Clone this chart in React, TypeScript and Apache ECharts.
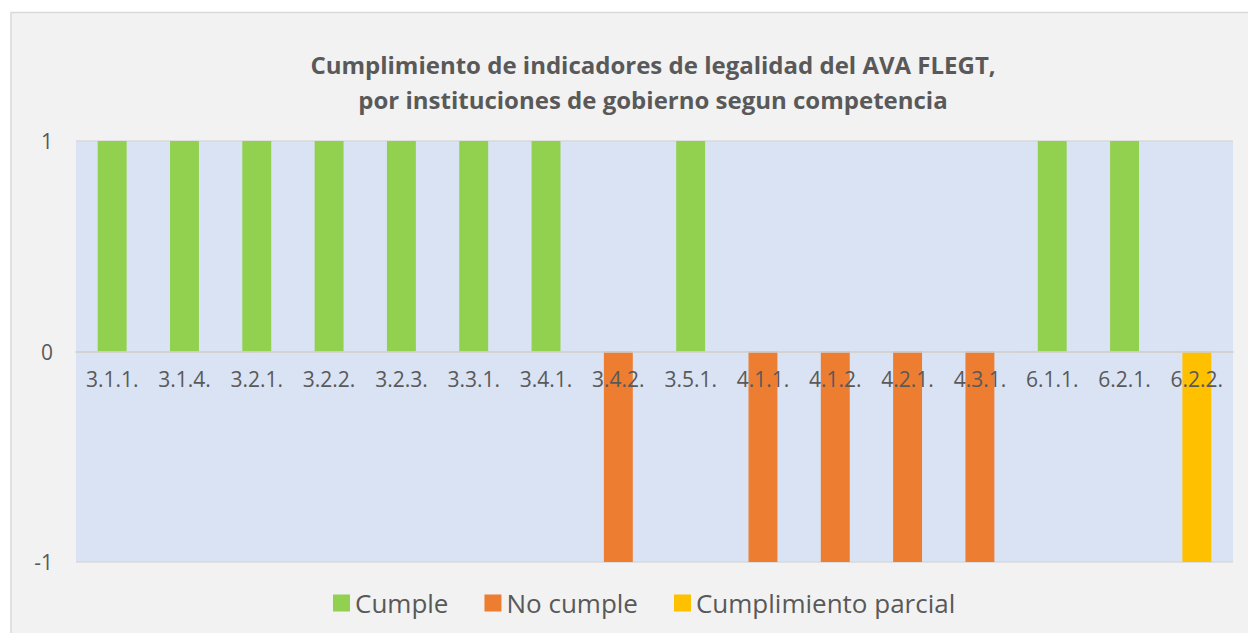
import React, { useEffect, useRef } from "react";
import * as echarts from "echarts";

const categories = ["3.1.1.", "3.1.4.", "3.2.1.", "3.2.2.", "3.2.3.", "3.3.1.", "3.4.1.", "3.4.2.", "3.5.1.", "4.1.1.", "4.1.2.", "4.2.1.", "4.3.1.", "6.1.1.", "6.2.1.", "6.2.2."];
const cumple = [1, 1, 1, 1, 1, 1, 1, "-", 1, "-", "-", "-", "-", 1, 1, "-"];
const noCumple = ["-", "-", "-", "-", "-", "-", "-", -1, "-", -1, -1, -1, -1, "-", "-", "-"];
const parcial = ["-", "-", "-", "-", "-", "-", "-", "-", "-", "-", "-", "-", "-", "-", "-", -1];
const seriesNames = ["Cumple", "No cumple", "Cumplimiento parcial"];
const colors = ["#92d050", "#ed7d31", "#ffc000"];
const titleLines = ["Cumplimiento de indicadores de legalidad del AVA FLEGT,", "por instituciones de gobierno segun competencia"];

const FONT = "'Open Sans', sans-serif";

export default function App() {
  const ref = useRef<HTMLDivElement>(null);
  useEffect(() => {
    if (!ref.current) return;
    const chart = echarts.init(ref.current, null, { renderer: "svg" });
    const data = [cumple, noCumple, parcial];
    chart.setOption({
      animation: false,
      backgroundColor: "#ffffff",
      graphic: [
        {
          type: "rect",
          z: -10,
          silent: true,
          shape: { x: 11, y: 12.5, width: 1250, height: 640 },
          style: { fill: "#f2f2f2", stroke: "#d9d9d9", lineWidth: 1.5 },
        },
      ],
      title: {
        text: titleLines.join("\n"),
        left: 648,
        textAlign: "center",
        top: 42,
        textStyle: { fontFamily: FONT, fontSize: 24, fontWeight: "bold", color: "#595959", lineHeight: 35 },
      },
      legend: {
        left: 328,
        top: 585,
        itemWidth: 17,
        itemHeight: 17,
        itemGap: 36,
        icon: "rect",
        textStyle: { fontFamily: FONT, fontSize: 26, color: "#595959" },
        data: seriesNames,
      },
      grid: {
        left: 76,
        right: 15,
        top: 141,
        bottom: 71,
        show: true,
        backgroundColor: "#dae3f3",
        borderWidth: 0,
        containLabel: false,
      },
      xAxis: {
        type: "category",
        data: categories,
        z: 5,
        position: "bottom",
        offset: -210.5,
        axisLine: { onZero: false, lineStyle: { color: "#d0d0d0", width: 1.5 } },
        axisTick: { show: false },
        axisLabel: { fontFamily: FONT, fontSize: 21, color: "#595959", margin: 17 },
        splitLine: { show: false },
      },
      yAxis: {
        type: "value",
        min: -1,
        max: 1,
        interval: 1,
        axisLine: { show: false },
        axisTick: { show: false },
        axisLabel: { fontFamily: FONT, fontSize: 21, color: "#595959", margin: 23 },
        splitLine: { show: true, lineStyle: { color: "#d9d9d9", width: 1.5 } },
      },
      series: seriesNames.map((name, i) => ({
        name,
        type: "bar",
        stack: "all",
        barWidth: "40%",
        data: data[i],
        itemStyle: { color: colors[i] },
      })),
    });
    return () => chart.dispose();
  }, []);
  return <div ref={ref} style={{ position: "absolute", left: 0, top: 0, width: 1248, height: 633 }} />;
}
